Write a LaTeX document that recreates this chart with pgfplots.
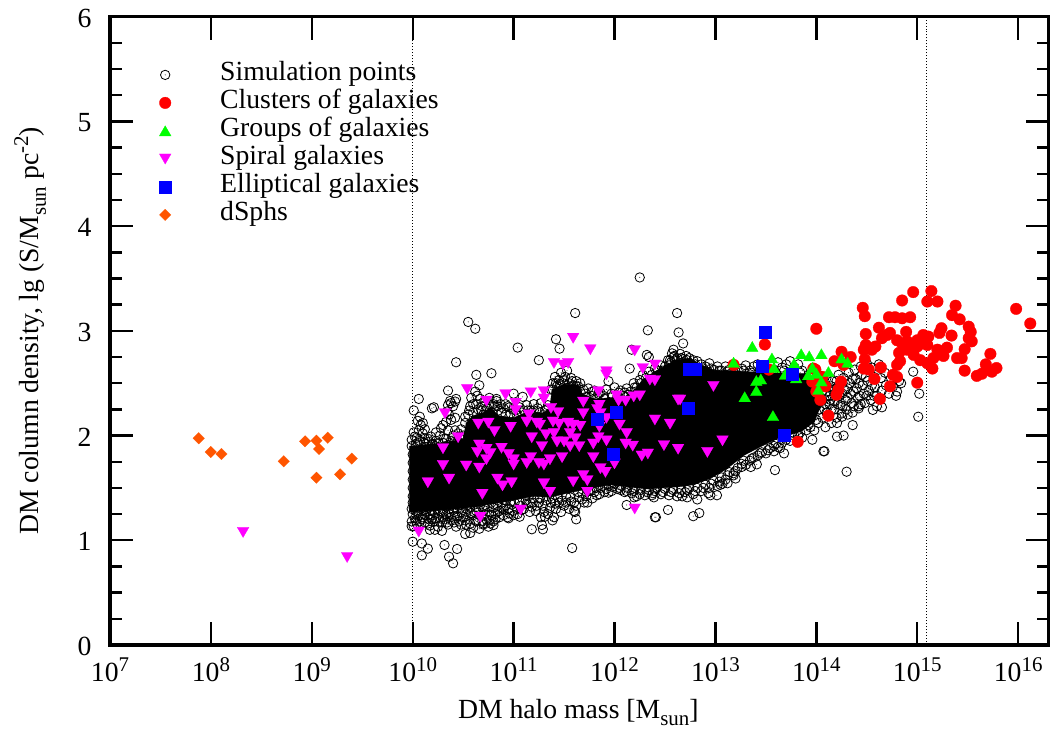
\documentclass[border=0pt]{standalone}
\usepackage{pgfplots}
\pgfplotsset{compat=1.18}
\usepackage{fontspec}
\setmainfont{Liberation Serif}
\definecolor{dsph}{RGB}{255,85,0}
\definecolor{cred}{RGB}{255,0,0}
\definecolor{cgreen}{RGB}{0,255,0}
\definecolor{cmag}{RGB}{255,0,255}
\definecolor{cblue}{RGB}{0,0,255}
\newcommand\lblfont{\fontsize{27.8}{32}\selectfont}
\newcommand\spx[1]{\raisebox{0.38em}{\fontsize{21}{21}\selectfont #1}}
\newcommand\sbx[1]{\raisebox{-0.26em}{\fontsize{21}{21}\selectfont #1}}
\pgfdeclareplotmark{circdot}{%
  \pgfpathcircle{\pgfqpoint{0pt}{0pt}}{\pgfplotmarksize}\pgfusepathqstroke
  \pgfpathcircle{\pgfqpoint{0pt}{0pt}}{0.5pt}\pgfusepathqfill}
\begin{document}
\begin{tikzpicture}
\useasboundingbox (-110bp,-90bp) rectangle (942bp,645bp);
\begin{axis}[
  scale only axis, width=938.5bp, height=628.3bp,
  xmode=log, log basis x=10, xmin=1e7, xmax=2e16, ymin=0, ymax=6,
  xtick={1e7,1e8,1e9,1e10,1e11,1e12,1e13,1e14,1e15,1e16},
  xticklabels={10\spx{7},10\spx{8},10\spx{9},10\spx{10},10\spx{11},10\spx{12},10\spx{13},10\spx{14},10\spx{15},10\spx{16}},
  ytick={0,1,2,3,4,5,6}, minor y tick num=3,
  /pgf/number format/assume math mode=true,
  tick align=inside, major tick length=23bp, minor tick length=12bp,
  every tick/.style={line width=2.4pt,black},
  major tick style={line width=2.4pt,black},
  minor tick style={line width=2.4pt,black},
  axis line style={line width=3.4pt},
  tick label style={font=\lblfont},
  xticklabel style={yshift=-9bp},
  yticklabel style={xshift=-15bp,yshift=-1.5bp},
  xlabel={DM halo mass [M\sbx{sun}]},
  ylabel={DM column density, lg (S/M\sbx{sun} pc\spx{-2})},
  every axis x label/.style={at={(axis description cs:0.499,-0.108)},anchor=center,font=\lblfont},
  every axis y label/.style={at={(axis description cs:-0.085,0.5)},rotate=90,anchor=center,font=\lblfont},
  legend cell align=left,
  legend style={at={(axis description cs:0.0,1)},anchor=north west,xshift=49bp,yshift=-44bp,
    draw=none,fill=none,inner sep=0pt,font=\lblfont,
    row sep=0pt,nodes={inner ysep=0pt,inner xsep=0pt,text height=20bp,text depth=8bp},
    /tikz/column 1/.style={column sep=49bp}},
  clip=true,
]
% solid part of the simulation cloud, outline
\addplot[fill=black,draw=black,forget plot] table[x expr=10^\thisrowno{0},y index=1,header=false] {
9.97 1.27
9.97 1.90
10.30 1.93
10.50 1.97
10.53 2.12
10.60 2.19
10.70 2.22
10.77 2.27
10.85 2.19
11.00 2.17
11.12 2.22
11.30 2.22
11.36 2.27
11.38 2.44
11.50 2.49
11.65 2.48
11.68 2.40
11.80 2.35
12.10 2.37
12.20 2.44
12.30 2.55
12.45 2.64
12.60 2.72
12.75 2.74
12.85 2.68
13.00 2.62
13.15 2.62
13.50 2.60
13.90 2.59
14.00 2.47
14.05 2.30
13.98 2.13
13.85 2.04
13.61 1.97
13.44 1.89
13.28 1.81
13.11 1.68
12.95 1.59
12.78 1.53
12.62 1.51
12.32 1.49
11.96 1.53
11.73 1.49
11.49 1.44
11.36 1.41
11.20 1.42
10.87 1.36
10.54 1.31
10.20 1.28
9.97 1.27
};
\addplot[only marks,mark=circdot,mark size=4.7bp,line width=0.8pt,mark options={draw=black,fill=black}]
 table[x expr=10^\thisrowno{0},y index=1,header=false] {
12.25 3.51
11.61 3.17
12.62 3.17
10.55 3.085
10.62 3.02
12.33 3.005
12.635 2.985
12.68 2.88
11.42 2.92
11.455 2.83
11.04 2.84
11.25 2.72
10.43 2.70
12.17 2.82
12.32 2.77
12.34 2.75
12.15 2.64
10.78 2.595
10.63 2.58
10.35 2.43
10.06 2.35
10.01 2.24
10.19 2.26
10.21 2.27
10.42 2.325
10.38 2.31
10.35 2.29
11.09 2.37
11.00 2.40
10.83 2.35
12.585 2.82
12.57 2.785
12.585 2.75
12.55 2.72
11.58 0.926
10.09 0.856
10.15 0.92
10.00 0.987
10.09 0.97
10.315 0.955
10.44 0.917
10.36 0.843
10.40 0.78
11.18 1.105
11.29 1.105
11.28 1.146
11.385 1.19
11.31 1.225
11.62 1.20
11.61 1.27
12.12 1.337
12.195 1.41
12.39 1.41
12.37 1.43
12.53 1.29
12.40 1.22
12.41 1.22
12.78 1.23
12.84 1.26
12.93 1.45
12.95 1.43
12.82 1.39
12.72 1.41
12.67 1.42
13.05 1.53
11.94 1.455
12.06 1.48
11.825 1.43
11.73 1.36
10.57 1.07
10.52 1.06
10.29 1.09
10.22 1.10
10.17 1.10
10.01 1.135
9.99 1.135
10.80 1.145
10.77 1.16
10.95 1.21
11.06 1.225
11.165 1.36
10.70 1.16
13.015 1.43
13.07 1.54
13.12 1.545
13.20 1.59
13.35 1.70
13.41 1.725
13.59 1.67
14.30 1.655
14.08 1.85
14.07 1.85
13.96 1.96
14.36 2.10
14.27 2.00
14.205 1.99
14.255 2.18
14.205 2.12
14.09 2.08
13.68 1.83
13.58 1.85
13.64 1.88
13.26 1.70
13.18 1.64
14.96 2.61
15.02 2.40
15.01 2.18
14.84 2.50
14.79 2.38
14.65 2.27
14.56 2.245
14.42 2.26
10.00 1.42
10.00 1.50
10.00 1.58
10.00 1.66
10.00 1.74
10.00 1.82
9.99 1.90
9.99 1.96
10.02 1.99
10.01 2.03
10.05 1.93
10.04 1.98
10.06 2.05
10.08 2.10
10.05 2.14
10.07 2.18
10.10 2.12
10.10 2.02
10.12 1.97
10.12 2.06
10.13 1.92
10.16 1.94
10.18 1.99
10.20 1.92
10.23 1.95
10.23 2.03
10.27 2.00
10.30 1.93
10.28 2.07
10.30 2.10
10.33 1.97
10.35 2.05
10.33 2.13
10.38 1.95
10.40 2.00
10.42 2.05
10.44 1.94
10.46 1.99
10.48 2.06
10.38 2.15
10.42 2.17
10.36 2.20
10.34 2.23
10.40 2.28
10.37 2.33
10.43 2.35
9.99 1.18
10.00 1.25
9.99 1.30
10.00 1.36
10.02 1.21
10.03 1.28
10.04 1.16
10.05 1.33
10.06 1.24
10.07 1.18
10.08 1.30
10.10 1.22
10.10 1.36
10.12 1.17
10.13 1.27
10.14 1.33
10.16 1.20
10.17 1.14
10.18 1.29
10.20 1.24
10.21 1.35
10.22 1.18
10.24 1.30
10.25 1.13
10.26 1.22
10.28 1.34
10.29 1.17
10.30 1.27
10.32 1.20
10.33 1.32
10.35 1.15
10.36 1.25
10.37 1.36
10.39 1.19
10.40 1.29
10.42 1.23
10.43 1.13
10.45 1.33
10.46 1.18
10.48 1.27
10.50 1.22
10.51 1.36
10.53 1.15
10.54 1.30
10.56 1.20
10.58 1.26
10.60 1.12
10.61 1.34
10.63 1.18
10.65 1.29
10.66 1.11
10.68 1.23
10.70 1.15
10.71 1.32
10.73 1.20
10.75 1.13
10.76 1.27
10.78 1.36
10.80 1.18
10.82 1.25
10.84 1.33
10.86 1.28
10.88 1.36
10.90 1.30
10.92 1.38
10.94 1.22
10.96 1.26
10.98 1.34
11.00 1.24
11.03 1.30
11.06 1.37
11.08 1.29
11.12 1.38
11.15 1.42
11.18 1.32
11.20 1.40
11.22 1.28
11.25 1.36
11.27 1.22
11.29 1.33
11.32 1.38
11.34 1.25
11.36 1.31
11.38 1.40
11.40 1.22
11.42 1.30
11.45 1.36
11.47 1.27
11.50 1.33
11.52 1.42
11.55 1.30
11.57 1.37
11.60 1.28
11.62 1.33
11.65 1.41
11.68 1.45
11.70 1.36
11.72 1.42
11.76 1.47
11.78 1.40
11.82 1.50
11.85 1.44
11.88 1.52
11.90 1.46
11.94 1.52
11.97 1.47
12.00 1.54
12.03 1.49
12.07 1.52
12.10 1.46
12.13 1.50
12.17 1.45
12.20 1.50
12.22 1.42
12.26 1.48
12.30 1.43
12.34 1.48
12.38 1.45
12.42 1.50
12.46 1.44
12.50 1.49
12.54 1.43
12.58 1.48
12.62 1.42
12.66 1.48
12.70 1.46
12.74 1.50
12.78 1.44
12.82 1.50
12.86 1.47
12.90 1.53
12.94 1.50
12.98 1.57
13.02 1.52
13.06 1.60
13.10 1.58
13.14 1.65
13.18 1.62
13.22 1.69
13.26 1.73
13.30 1.72
13.34 1.76
13.38 1.79
13.42 1.81
13.46 1.84
13.50 1.83
13.54 1.88
13.58 1.90
13.62 1.89
13.66 1.93
13.70 1.96
13.74 1.95
13.78 2.00
13.82 2.00
13.86 1.98
13.90 2.05
13.94 2.08
13.98 2.05
14.02 2.12
10.50 2.00
10.52 2.12
10.55 2.20
10.57 2.28
10.58 2.36
10.60 2.22
10.62 2.42
10.63 2.30
10.65 2.25
10.66 2.48
10.67 2.35
10.69 2.28
10.70 2.20
10.72 2.33
10.74 2.26
10.76 2.30
10.79 2.22
10.81 2.28
10.83 2.33
10.85 2.24
10.87 2.30
10.90 2.26
10.92 2.20
10.94 2.28
10.97 2.21
11.00 2.25
11.03 2.20
11.06 2.27
11.10 2.24
11.13 2.29
11.17 2.24
11.20 2.30
11.24 2.26
11.27 2.31
11.31 2.24
11.34 2.29
11.37 2.44
11.39 2.50
11.41 2.56
11.43 2.47
11.45 2.53
11.47 2.60
11.49 2.50
11.51 2.56
11.53 2.62
11.55 2.50
11.57 2.55
11.59 2.48
11.62 2.52
11.64 2.47
11.66 2.50
11.69 2.44
11.71 2.40
11.74 2.45
11.77 2.38
11.80 2.43
11.83 2.37
11.86 2.41
11.89 2.38
11.92 2.44
11.94 2.52
11.97 2.40
12.00 2.46
12.03 2.38
12.06 2.43
12.09 2.38
12.12 2.45
12.16 2.42
12.19 2.50
12.22 2.46
12.25 2.53
12.28 2.58
12.31 2.55
12.34 2.61
12.37 2.58
12.40 2.64
12.43 2.62
12.46 2.67
12.50 2.66
12.53 2.72
12.56 2.70
12.59 2.76
12.62 2.74
12.65 2.78
12.68 2.73
12.71 2.76
12.74 2.74
12.78 2.72
12.82 2.71
12.86 2.68
12.90 2.66
12.94 2.69
12.98 2.63
13.02 2.66
13.06 2.62
13.10 2.66
13.14 2.63
13.18 2.66
13.22 2.62
13.26 2.64
13.30 2.67
13.34 2.62
13.38 2.66
13.42 2.68
13.46 2.62
13.50 2.65
13.54 2.68
13.58 2.63
13.62 2.70
13.66 2.65
13.70 2.68
13.74 2.71
13.78 2.65
13.82 2.68
13.86 2.62
14.02 2.58
14.05 2.50
14.06 2.42
14.08 2.35
14.08 2.25
14.06 2.17
14.10 2.55
14.12 2.46
14.13 2.38
14.13 2.30
14.12 2.20
14.15 2.12
14.16 2.52
14.17 2.42
14.18 2.33
14.18 2.25
14.20 2.17
14.22 2.58
14.22 2.48
14.23 2.38
14.24 2.29
14.25 2.21
14.27 2.55
14.28 2.44
14.29 2.34
14.30 2.25
14.32 2.60
14.33 2.50
14.34 2.40
14.35 2.31
14.36 2.22
14.38 2.63
14.39 2.54
14.40 2.45
14.41 2.36
14.42 2.28
14.44 2.66
14.45 2.58
14.46 2.48
14.47 2.40
14.48 2.31
14.50 2.69
14.51 2.52
14.52 2.43
14.54 2.34
14.55 2.65
14.57 2.56
14.58 2.46
14.60 2.38
14.60 2.28
14.62 2.68
14.64 2.55
14.65 2.43
14.68 2.60
14.69 2.48
14.72 2.40
14.74 2.55
14.76 2.47
14.80 2.42
14.82 2.52
10.01 1.31
10.03 1.19
10.05 1.26
10.07 1.35
10.09 1.20
10.11 1.29
10.12 1.24
10.15 1.16
10.15 1.31
10.17 1.25
10.19 1.20
10.19 1.34
10.22 1.27
10.23 1.21
10.25 1.33
10.27 1.18
10.27 1.28
10.30 1.22
10.31 1.34
10.33 1.25
10.34 1.17
10.36 1.30
10.38 1.22
10.38 1.34
10.41 1.17
10.41 1.27
10.44 1.23
10.44 1.30
10.47 1.34
10.48 1.15
10.50 1.29
10.52 1.19
10.53 1.25
10.55 1.34
10.57 1.16
10.57 1.31
10.60 1.24
10.62 1.19
10.63 1.28
10.66 1.24
10.67 1.34
10.69 1.18
10.70 1.29
10.72 1.25
10.74 1.32
10.76 1.19
10.78 1.24
10.80 1.31
10.82 1.20
10.84 1.27
10.86 1.22
10.88 1.31
10.90 1.24
10.92 1.33
10.95 1.30
10.97 1.37
10.99 1.28
11.01 1.36
11.04 1.25
11.07 1.33
11.10 1.30
11.13 1.35
11.16 1.27
11.19 1.36
11.23 1.33
11.26 1.40
11.30 1.27
11.33 1.42
11.37 1.36
11.41 1.35
11.44 1.41
11.48 1.38
11.52 1.36
11.56 1.41
11.60 1.36
11.64 1.46
11.68 1.39
11.74 1.47
11.80 1.46
11.86 1.50
11.92 1.49
11.98 1.51
12.05 1.50
12.12 1.47
12.19 1.47
12.25 1.44
12.32 1.46
12.40 1.47
12.48 1.46
12.56 1.46
12.64 1.45
12.72 1.48
12.80 1.47
12.88 1.50
12.96 1.54
13.04 1.56
13.12 1.62
13.20 1.66
13.28 1.76
13.36 1.78
13.44 1.83
13.52 1.86
13.60 1.92
13.68 1.98
13.76 2.03
13.84 2.03
13.92 2.10
14.00 2.15
10.52 2.18
10.56 2.24
10.60 2.30
10.64 2.38
10.68 2.24
10.72 2.24
10.76 2.36
10.80 2.30
10.84 2.28
10.88 2.22
10.92 2.30
10.96 2.27
11.02 2.24
11.08 2.22
11.14 2.24
11.20 2.24
11.26 2.22
11.33 2.25
11.39 2.44
11.42 2.50
11.46 2.48
11.50 2.53
11.54 2.46
11.58 2.52
11.62 2.47
11.72 2.37
11.78 2.42
11.84 2.40
11.90 2.35
11.98 2.37
12.04 2.41
12.10 2.41
12.14 2.39
12.20 2.46
12.26 2.50
12.30 2.49
12.36 2.54
12.42 2.57
12.48 2.62
12.54 2.67
12.60 2.72
12.66 2.74
12.72 2.72
12.80 2.68
12.88 2.64
12.96 2.64
13.04 2.62
13.12 2.61
13.20 2.61
13.28 2.62
13.36 2.60
13.44 2.63
13.52 2.60
13.60 2.60
13.68 2.62
13.76 2.60
13.84 2.60
13.92 2.58
13.96 2.52
14.00 2.48
14.02 2.40
14.03 2.33
14.03 2.25
10.03 1.92
10.07 1.95
10.11 1.93
10.15 1.97
10.19 1.92
10.22 1.90
10.26 1.93
10.31 1.97
10.35 1.91
10.41 1.94
10.45 2.02
10.47 1.93
14.04 2.46
14.07 2.55
14.09 2.30
14.10 2.42
14.10 2.22
14.14 2.34
14.15 2.47
14.15 2.25
14.18 2.38
14.20 2.52
14.21 2.43
14.21 2.30
14.26 2.40
14.26 2.50
14.26 2.28
14.31 2.36
14.31 2.45
14.31 2.20
14.36 2.54
14.37 2.42
14.37 2.28
14.42 2.50
14.43 2.38
14.44 2.30
14.49 2.56
14.50 2.38
14.55 2.48
14.57 2.38
};
\addlegendentry{Simulation points}
\addplot[only marks,color=cred,mark=*,mark size=5.8bp,mark options={draw=cred,fill=cred,line width=0.3bp}]
 table[x expr=10^\thisrowno{0},y index=1,header=false] {
13.18 2.675
13.49 2.87
13.53 2.63
14.00 3.02
14.46 3.22
14.48 3.14
14.85 3.29
14.96 3.37
15.14 3.38
15.10 3.28
15.20 3.28
15.38 3.24
15.345 3.15
15.42 3.11
15.98 3.21
16.12 3.07
14.72 3.13
14.78 3.13
14.85 3.12
14.93 3.13
14.62 3.03
14.49 2.97
14.73 2.98
14.89 2.99
14.65 2.93
14.80 2.91
14.70 2.96
14.85 2.88
15.00 2.91
15.06 2.96
15.11 2.945
15.24 3.025
15.22 2.98
15.34 2.955
15.51 3.04
15.53 2.99
15.51 2.93
15.54 2.90
14.585 2.85
14.49 2.865
14.55 2.82
14.47 2.82
15.295 2.84
15.47 2.825
15.20 2.82
14.82 2.79
14.90 2.82
15.00 2.85
15.10 2.865
14.25 2.80
14.34 2.75
14.18 2.71
14.27 2.675
14.48 2.73
14.83 2.71
14.80 2.675
14.965 2.77
15.03 2.72
15.16 2.74
15.26 2.76
15.395 2.74
15.44 2.74
15.725 2.78
15.68 2.68
15.785 2.645
15.74 2.61
15.685 2.63
15.64 2.59
15.59 2.57
15.47 2.62
15.15 2.64
15.10 2.69
14.47 2.64
14.52 2.63
14.64 2.65
14.575 2.54
14.76 2.58
14.80 2.56
14.73 2.47
15.00 2.505
14.63 2.35
14.245 2.515
14.22 2.44
14.20 2.39
14.04 2.34
14.12 2.19
13.815 1.94
13.99 2.63
14.06 2.56
13.96 2.515
14.00 2.42
14.09 2.47
13.97 2.64
14.90 2.90
14.95 2.865
14.88 2.84
15.05 2.88
};
\addlegendentry{Clusters of galaxies}
\addplot[only marks,color=cgreen,mark=triangle*,mark size=6.8bp,mark options={draw=cgreen,fill=cgreen,line width=0.2bp,yshift=-1.6bp}]
 table[x expr=10^\thisrowno{0},y index=1,header=false] {
13.365 2.85
13.18 2.70
13.56 2.74
13.58 2.65
13.85 2.78
13.93 2.76
14.05 2.78
13.78 2.69
13.69 2.585
13.80 2.55
13.45 2.54
13.405 2.525
13.405 2.43
13.29 2.37
13.57 2.19
13.92 2.58
13.96 2.65
14.00 2.595
14.12 2.61
14.05 2.52
14.02 2.44
14.25 2.74
14.31 2.70
};
\addlegendentry{Groups of galaxies}
\addplot[only marks,color=cmag,mark=triangle*,mark size=6.8bp,mark options={draw=cmag,fill=cmag,line width=0.2bp,rotate=180,yshift=-1.6bp}]
 table[x expr=10^\thisrowno{0},y index=1,header=false] {
8.319 1.076
9.35 0.837
10.54 2.44
10.73 2.33
10.92 2.39
11.17 2.41
11.02 2.31
11.02 2.24
10.32 2.21
11.15 2.20
11.13 2.13
10.65 2.11
10.75 2.12
10.81 2.04
10.97 2.08
11.23 2.12
10.45 1.98
11.18 1.98
10.30 1.875
10.66 1.91
10.88 1.88
10.64 1.84
10.73 1.87
10.77 1.83
10.95 1.82
10.73 1.77
11.00 1.77
11.17 1.79
11.00 1.72
11.13 1.735
11.25 1.735
10.30 1.716
10.53 1.71
10.66 1.69
10.84 1.585
10.98 1.55
10.89 1.52
10.15 1.55
10.36 1.585
10.69 1.44
11.07 1.29
10.67 1.22
10.06 1.08
11.59 2.93
11.76 2.82
11.40 2.69
11.49 2.675
11.54 2.69
12.20 2.81
12.28 2.64
12.40 2.675
11.92 2.61
11.92 2.58
12.35 2.53
12.40 2.525
11.30 2.42
11.84 2.42
12.02 2.38
12.25 2.38
12.19 2.37
12.04 2.33
12.11 2.33
11.30 2.35
12.63 2.34
11.69 2.32
11.85 2.29
11.37 2.26
11.83 2.25
11.44 2.22
11.69 2.21
11.86 2.21
11.92 2.165
12.40 2.15
11.39 2.13
11.26 2.10
11.45 2.11
11.54 2.12
11.59 2.10
11.66 2.09
11.85 2.08
12.05 2.10
12.55 2.11
11.40 2.02
11.32 2.01
11.56 2.02
12.12 2.02
11.61 1.97
11.84 1.98
11.92 1.95
11.43 1.94
11.50 1.94
11.79 1.92
12.11 1.92
11.28 1.895
11.56 1.895
11.65 1.895
12.18 1.90
12.49 1.905
12.63 1.87
12.33 1.825
12.27 1.805
11.79 1.79
11.48 1.79
11.36 1.77
11.30 1.72
12.00 1.73
11.86 1.685
11.91 1.65
11.69 1.62
11.59 1.56
11.73 1.57
11.30 1.54
11.73 1.46
11.36 1.46
12.20 1.30
12.98 2.47
12.65 2.34
13.07 1.95
12.92 1.84
};
\addlegendentry{Spiral galaxies}
\addplot[only marks,color=cblue,mark=square*,mark size=6bp,mark options={draw=cblue,fill=cblue,line width=0.1bp}]
 table[x expr=10^\thisrowno{0},y index=1,header=false] {
12.74 2.633
12.80 2.633
12.73 2.267
13.68 2.006
13.464 2.665
13.76 2.59
13.494 2.992
11.828 2.159
12.013 2.229
11.987 1.825
};
\addlegendentry{Elliptical galaxies}
\addplot[only marks,color=dsph,mark=square*,mark size=4.1bp,mark options={draw=dsph,fill=dsph,line width=0.1bp,rotate=45}]
 table[x expr=10^\thisrowno{0},y index=1,header=false] {
7.879 1.974
7.998 1.843
8.104 1.824
8.722 1.754
8.933 1.945
9.046 1.952
9.072 1.872
9.158 1.98
9.046 1.598
9.28 1.63
9.396 1.78
};
\addlegendentry{dSphs}
\addplot[forget plot,black,line width=0.8pt,dash pattern=on 0.8pt off 2.2pt] coordinates {(1e10,0) (1e10,6)};
\addplot[forget plot,black,line width=0.8pt,dash pattern=on 0.8pt off 2.2pt] coordinates {(1.245e15,0) (1.245e15,6)};
\end{axis}
\end{tikzpicture}
\end{document}
